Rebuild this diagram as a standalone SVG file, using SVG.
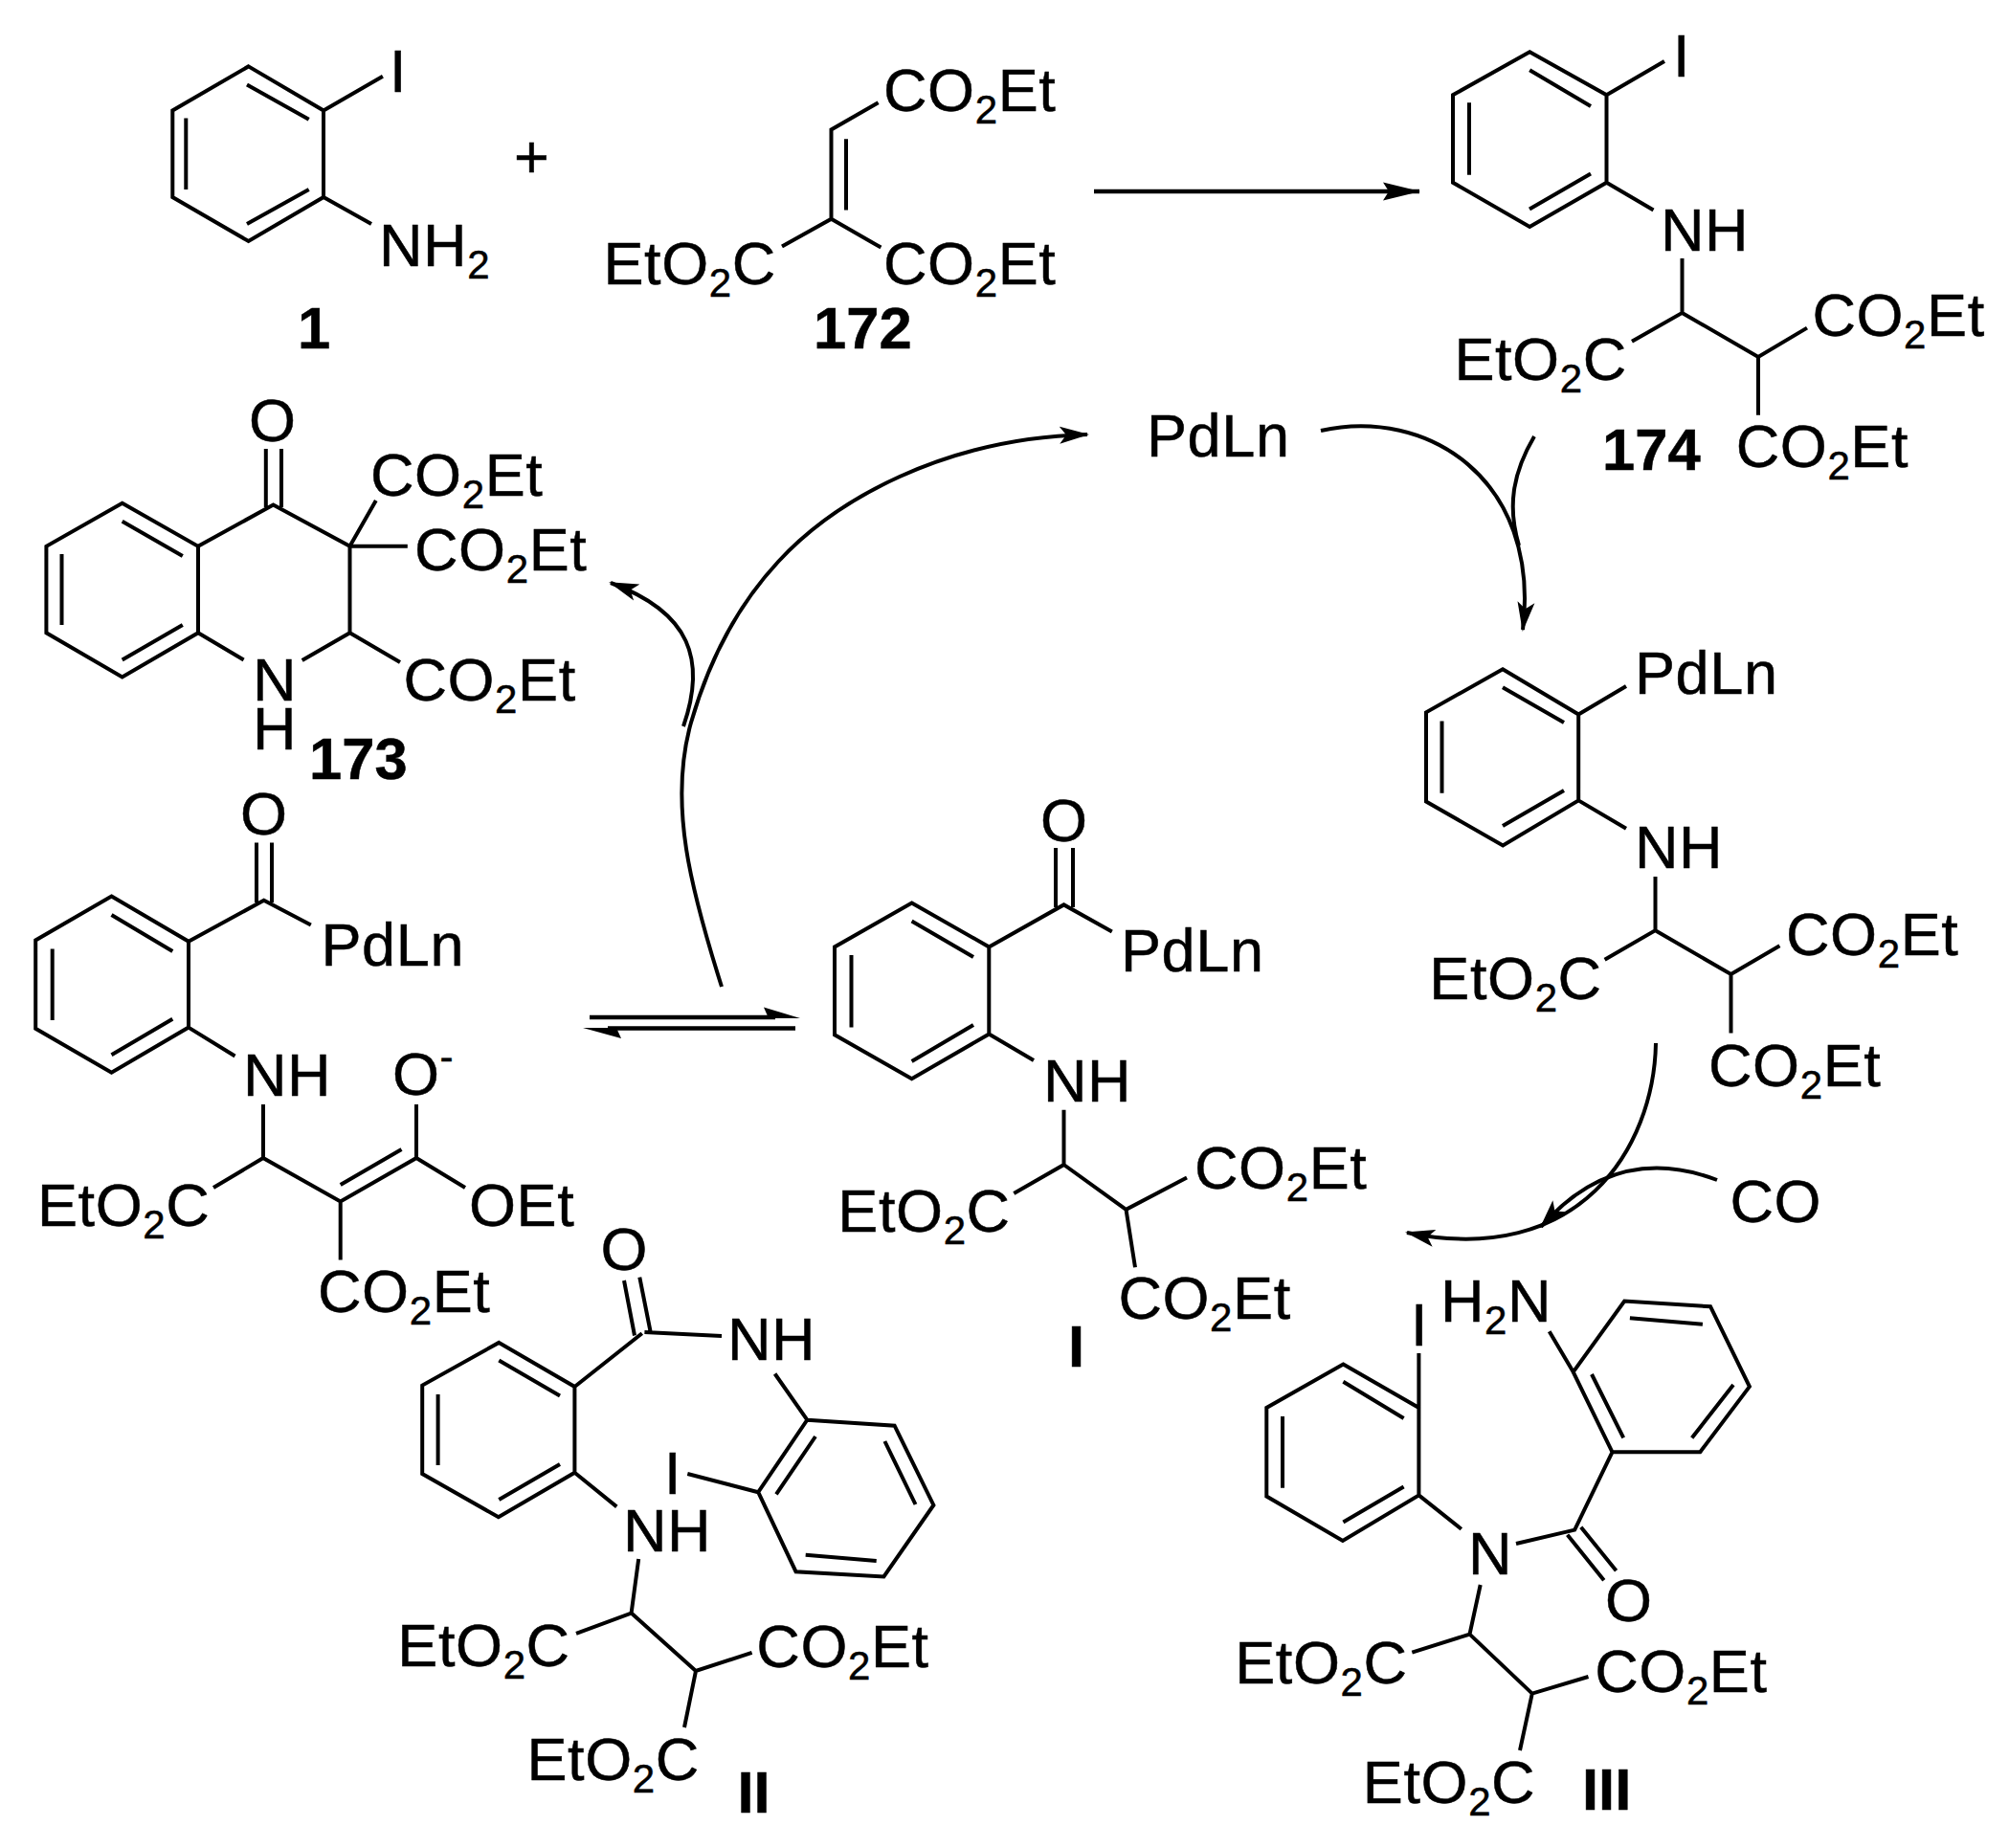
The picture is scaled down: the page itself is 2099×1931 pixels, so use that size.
<svg xmlns="http://www.w3.org/2000/svg" width="2099" height="1931" viewBox="0 0 2099 1931">
<style>
text{font-family:"Liberation Sans",Arial,sans-serif;font-size:63px;letter-spacing:.6px;fill:#000;stroke:#000;stroke-width:.5}
.b{font-weight:bold;font-size:61.500px;letter-spacing:0}
.s{font-size:42px}
.bond{fill:none;stroke:#000;stroke-width:4;stroke-linejoin:miter;stroke-linecap:butt}
.cv{fill:none;stroke:#000;stroke-width:4}
.ln{fill:none;stroke:#000;stroke-width:4.5}
.hd{fill:#000}
</style>
<defs>
<marker id="arr" markerUnits="userSpaceOnUse" markerWidth="32" markerHeight="20" viewBox="0 0 32 20" refX="29" refY="10" orient="auto"><path d="M31,10L0,1L7,10L0,19Z" class="hd"/></marker>
<marker id="arrL" markerUnits="userSpaceOnUse" markerWidth="40" markerHeight="22" viewBox="0 0 40 22" refX="38" refY="11" orient="auto"><path d="M39,11L0,1.500L6,11L0,20.500Z" class="hd"/></marker>
</defs>
<rect width="2099" height="1931" fill="#fff"/>
<g id="connectors">
<path class="ln" d="M1143,200H1483" marker-end="url(#arrL)"/>
<path class="ln" d="M616,1063H810"/><path class="hd" d="M836,1064L798,1052.600L803,1064Z"/>
<path class="ln" d="M635,1074.500H831"/><path class="hd" d="M609,1074L649,1085L644,1074Z"/>
<path class="cv" d="M714,759C738,690 722,640 638,609" marker-end="url(#arr)"/>
<path class="cv" d="M754,1031C722,930 698,840 722,755C742,685 775,628 813,587C872,523 985,458 1136,454" marker-end="url(#arr)"/>
<path class="cv" d="M1380,450C1490,425 1610,500 1591,658" marker-end="url(#arr)"/>
<path class="cv" d="M1603,456C1580,495 1575,530 1587,570"/>
<path class="cv" d="M1730,1090C1728,1200 1650,1325 1470,1288" marker-end="url(#arr)"/>
<path class="cv" d="M1794,1233C1720,1205 1660,1225 1610,1282" marker-end="url(#arr)"/>
</g>
<g id="n1">
<path class="bond" d="M259.600,69.400L338,115.500V206L259.600,252L180.300,206V115.500ZM258,88.400L322.700,124.700M194.300,123.600V197.900M258,234L322.700,198M338,115.500L399.900,79.700M338,206L388,234"/>
<text x="407" y="96">I</text>
<text x="396" y="277.600">NH<tspan class="s" dy="13">2</tspan></text>
<text class="b" x="311" y="364.300">1</text>
</g>
<text id="plus" x="537" y="186">+</text>
<g id="n172">
<path class="bond" d="M917.600,107.300L868.500,135.500V228.800L817,257.500M868.500,228.800L920.400,258.600M884,145.300V219.500"/>
<text x="923" y="116">CO<tspan class="s" dy="13">2</tspan><tspan dy="-13">Et</tspan></text>
<text x="923" y="297">CO<tspan class="s" dy="13">2</tspan><tspan dy="-13">Et</tspan></text>
<text x="630.500" y="297">EtO<tspan class="s" dy="13">2</tspan><tspan dy="-13">C</tspan></text>
<text class="b" x="850" y="364.300">172</text>
</g>
<g id="n174">
<path class="bond" d="M1598.200,54.200L1678.500,99.200V190.800L1598.200,236.900L1518,190.800V99.200ZM1598.200,73.200L1662,111M1535,107.300V182.700M1598,218.500L1662,181.600M1678.500,99.200L1739,64M1678.500,190.800L1727.500,219.500M1757.500,270V326.900L1705,356.700M1757.500,326.900L1837,373L1888,342.600M1837,373V433.700"/>
<text x="1748" y="79.700">I</text>
<text x="1735" y="261.800">NH</text>
<text x="1893.400" y="351.300">CO<tspan class="s" dy="13">2</tspan><tspan dy="-13">Et</tspan></text>
<text x="1519.400" y="397.400">EtO<tspan class="s" dy="13">2</tspan><tspan dy="-13">C</tspan></text>
<text x="1813.700" y="487.900">CO<tspan class="s" dy="13">2</tspan><tspan dy="-13">Et</tspan></text>
<text class="b" x="1674" y="490.600">174</text>
</g>
<text id="pdln" x="1198" y="477">PdLn</text>
<g id="n173">
<path class="bond" d="M127.700,525.800L207,570.800V661.300L127.700,707.400L48.400,661.300V570.800ZM127.700,544.800L190.800,581M64.500,579V653M127.700,689.500L190.800,653M207,570.800L285.500,527.500L365.500,570.800V661.300L315.700,690M207,661.300L254.600,689.500M365.500,661.300L418,692M365.500,570.800L392.800,523M365.500,570.800H425.800M277.800,469V530M294,469V530"/>
<text x="260" y="460.800">O</text>
<text x="387" y="517.700">CO<tspan class="s" dy="13">2</tspan><tspan dy="-13">Et</tspan></text>
<text x="433" y="596.300">CO<tspan class="s" dy="13">2</tspan><tspan dy="-13">Et</tspan></text>
<text x="421.400" y="731.800">CO<tspan class="s" dy="13">2</tspan><tspan dy="-13">Et</tspan></text>
<text x="264" y="731.800">N</text>
<text x="264" y="783.300">H</text>
<text class="b" x="323" y="814">173</text>
</g>
<g id="nPd">
<path class="bond" d="M1570,699.300L1649.200,746.500V836.400L1570.200,883.400L1490,837.500V744.300ZM1570,718.300L1634,755M1506.500,753.500V828.700M1570,863L1634,826M1649.200,746.500L1699,717M1649.200,836.400L1699,865.800M1729.500,916V972.200L1676.600,1002.800M1729.500,972.200L1808.500,1018L1859.400,988.300M1808.500,1018V1079.400"/>
<text x="1708" y="724.800">PdLn</text>
<text x="1708" y="907">NH</text>
<text x="1866" y="997.900">CO<tspan class="s" dy="13">2</tspan><tspan dy="-13">Et</tspan></text>
<text x="1493.300" y="1043.800">EtO<tspan class="s" dy="13">2</tspan><tspan dy="-13">C</tspan></text>
<text x="1785" y="1134.900">CO<tspan class="s" dy="13">2</tspan><tspan dy="-13">Et</tspan></text>
</g>
<text id="co" x="1807.400" y="1276.500">CO</text>
<g id="nEnolate">
<path class="bond" d="M116.500,936.600L197,983.700V1073.600L116.500,1120.700L37.200,1074.800V982.500ZM116.500,956L180.300,994M54.700,991.400V1066M116.500,1102.300L180.300,1064.800M197,983.700L275.700,940.800L324.800,966.500M268,880.400V943M284,880.400V943M197,1073.600L245.500,1103.500M275,1154V1210L355.700,1255.400L435,1210V1154M419.500,1201L355.700,1238M275,1210L223,1241M435,1210L486,1241M355.700,1255.400V1316.600"/>
<text x="251" y="871.600">O</text>
<text x="335.500" y="1009.300">PdLn</text>
<text x="254" y="1145.200">NH</text>
<text x="410" y="1143.700">O<tspan class="s" dy="-25">-</tspan></text>
<text x="39" y="1281.400">EtO<tspan class="s" dy="13">2</tspan><tspan dy="-13">C</tspan></text>
<text x="490" y="1281.400">OEt</text>
<text x="332" y="1371.400">CO<tspan class="s" dy="13">2</tspan><tspan dy="-13">Et</tspan></text>
</g>
<g id="nI">
<path class="bond" d="M952.600,943.500L1033.300,989.400V1080.500L952.600,1127.200L872,1081.300V989.400ZM952.600,962.600L1017,1000M889.500,998V1073.600M952.600,1109L1017,1071M1033.300,989.400L1111.500,945.400L1161.800,973.400M1103,886V948M1121,886V948M1033.300,1080.500L1080,1108M1111.500,1159.700V1217L1059.300,1247M1111.500,1217L1176.500,1263.800L1240,1230.500M1176.500,1263.800L1186,1324.300"/>
<text x="1087" y="878.500">O</text>
<text x="1171" y="1015">PdLn</text>
<text x="1090" y="1151">NH</text>
<text x="875.300" y="1286.800">EtO<tspan class="s" dy="13">2</tspan><tspan dy="-13">C</tspan></text>
<text x="1248" y="1242">CO<tspan class="s" dy="13">2</tspan><tspan dy="-13">Et</tspan></text>
<text x="1168.400" y="1377.900">CO<tspan class="s" dy="13">2</tspan><tspan dy="-13">Et</tspan></text>
<text class="b" x="1116" y="1428">I</text>
</g>
<g id="nII">
<path class="bond" d="M521.300,1402.900L600.400,1449V1538.800L520.800,1585.300L441.200,1540V1447.600ZM521.300,1421.600L585,1458.500M457.600,1457V1531M521.300,1567L585,1530M600.400,1449L670.800,1393.300M652,1338L663,1395.500M668.300,1334.700L679.500,1391M673.400,1392L754,1396M809.600,1435.500L843.300,1483.700M843.300,1483.700L934.600,1489.700L975.400,1572.700L923.400,1647.400L831.500,1642.200L792.200,1559.200ZM852,1501L811,1561.400M924.400,1506L956.500,1572M915.700,1631L841.700,1624.800M792.200,1559.200L718.300,1540M600.400,1538.800L644.300,1574.400M667.200,1629L659.600,1685.600L602,1706.900M659.600,1685.600L727,1746L785.600,1726.900M727,1746L715,1805"/>
<text x="627.500" y="1326.900">O</text>
<text x="760" y="1420.700">NH</text>
<text x="694" y="1560.500">I</text>
<text x="651" y="1621.300">NH</text>
<text x="415.300" y="1740.800">EtO<tspan class="s" dy="13">2</tspan><tspan dy="-13">C</tspan></text>
<text x="790.300" y="1742">CO<tspan class="s" dy="13">2</tspan><tspan dy="-13">Et</tspan></text>
<text x="550.500" y="1860">EtO<tspan class="s" dy="13">2</tspan><tspan dy="-13">C</tspan></text>
<text class="b" x="770.500" y="1894">II</text>
</g>
<g id="nIII">
<path class="bond" d="M1403.400,1425.600L1482.400,1471V1562.400L1402.900,1609.900L1323.300,1563.600V1471ZM1403.400,1443.700L1466.600,1482M1340,1480V1554.700M1403.400,1590.500L1466.600,1553.500M1482.400,1471V1413.900M1618.700,1391.300L1643.700,1433.600M1643.700,1433.600L1697.200,1359.600L1787,1365.200L1827.900,1448.900L1776.300,1517.300H1684.500ZM1702.900,1377.300L1778.900,1383.700M1811,1446.900L1767.700,1502.400M1696.200,1502.400L1663,1436M1684.500,1517.300L1645.200,1598.600L1584,1613M1651.800,1595.800L1688.600,1641.300M1637.600,1603.800L1675.800,1651.300M1482.400,1562.400L1526.800,1597.800M1546.700,1656L1535.500,1707.600L1475.300,1726.600M1535.500,1707.600L1600.800,1769.600L1659.500,1752M1600.800,1769.600L1588,1829"/>
<text x="1474" y="1405.800">I</text>
<text x="1505" y="1380.500">H<tspan class="s" dy="13">2</tspan><tspan dy="-13">N</tspan></text>
<text x="1677" y="1694.400">O</text>
<text x="1534" y="1644.900">N</text>
<text x="1290.200" y="1758.800">EtO<tspan class="s" dy="13">2</tspan><tspan dy="-13">C</tspan></text>
<text x="1666.200" y="1767.600">CO<tspan class="s" dy="13">2</tspan><tspan dy="-13">Et</tspan></text>
<text x="1423.800" y="1883.500">EtO<tspan class="s" dy="13">2</tspan><tspan dy="-13">C</tspan></text>
<text class="b" x="1653" y="1890.800">III</text>
</g>
</svg>
